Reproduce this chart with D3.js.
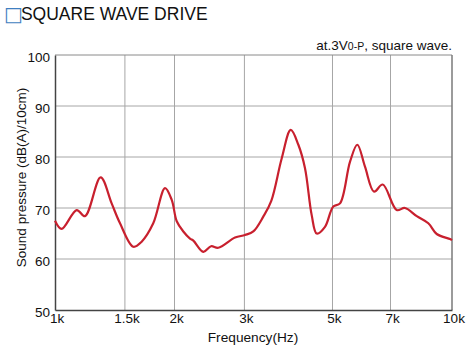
<!DOCTYPE html>
<html>
<head>
<meta charset="utf-8">
<script src="https://cdn.jsdelivr.net/npm/d3@7"></script>
<style>
  body { margin: 0; background: #fff; }
  svg { display: block; font-family: "Liberation Sans", Arial, Helvetica, sans-serif; }
</style>
</head>
<body>
<div id="chart"></div>
<script>
// Sound pressure response, square wave drive
const freq = [1000, 1039, 1134, 1190, 1303, 1389, 1458, 1575, 1653, 1768, 1893, 1968, 2026, 2105,
  2188, 2231, 2364, 2472, 2578, 2841, 3010, 3159, 3347, 3506, 3724, 3925, 4102, 4263, 4432,
  4563, 4787, 5023, 5223, 5536, 5774, 6037, 6364, 6691, 7256, 7613, 8152, 8716, 9152, 9885, 10000];
const spl = [67.5, 65.9, 69.6, 68.4, 76.0, 70.9, 67.0, 62.4, 63.4, 67.0, 73.9, 71.6, 67.4, 65.4,
  64.0, 63.6, 61.4, 62.5, 62.2, 64.2, 64.7, 65.4, 68.3, 71.4, 79.7, 85.3, 82.4, 77.8, 68.6,
  65.0, 66.3, 70.3, 70.9, 79.1, 82.4, 78.1, 73.2, 74.6, 69.6, 70.0, 68.4, 67.0, 64.9, 63.9, 63.7];

const xTicks = [1000, 1500, 2000, 3000, 5000, 7000, 10000];
const xTickLabels = ['1k', '1.5k', '2k', '3k', '5k', '7k', '10k'];
const yTicks = [50, 60, 70, 80, 90, 100];

const width = 472, height = 351;
const margin = { left: 55, right: 20, top: 55, bottom: 41 };

const svg = d3.select('#chart').append('svg')
  .attr('width', width)
  .attr('height', height);

const x = d3.scaleLog()
  .domain([1000, 10000])
  .range([margin.left, width - margin.right]);

const y = d3.scaleLinear()
  .domain([50, 100])
  .range([height - margin.bottom, margin.top]);

// Title
const title = svg.append('text')
  .attr('x', 4)
  .attr('y', 20)
  .attr('font-size', 17.5)
  .attr('fill', '#111');
title.append('tspan')
  .attr('fill', '#3f7fc1')
  .attr('font-family', '"DejaVu Sans", sans-serif')
  .attr('font-size', 20)
  .attr('dy', 1)
  .text('□');
title.append('tspan').attr('dx', -2).attr('dy', -1).text('SQUARE WAVE DRIVE');

// Condition note
const note = svg.append('text')
  .attr('x', x(10000))
  .attr('y', 50)
  .attr('text-anchor', 'end')
  .attr('font-size', 13.5)
  .attr('fill', '#111');
note.append('tspan').text('at.3V');
note.append('tspan').attr('font-size', 10.5).text('0-P');
note.append('tspan').text(', square wave.');

// Grid
svg.append('g')
  .selectAll('line')
  .data(yTicks.slice(1, -1))
  .join('line')
  .attr('x1', x(1000)).attr('x2', x(10000))
  .attr('y1', d => y(d)).attr('y2', d => y(d))
  .attr('stroke', '#a6a6a6').attr('stroke-width', 1);

svg.append('g')
  .selectAll('line')
  .data(xTicks.slice(1, -1))
  .join('line')
  .attr('x1', d => x(d)).attr('x2', d => x(d))
  .attr('y1', y(50)).attr('y2', y(100))
  .attr('stroke', '#a6a6a6').attr('stroke-width', 1);

// Frame: top and right lighter, left and bottom dark
svg.append('line')
  .attr('x1', x(1000)).attr('x2', x(10000))
  .attr('y1', y(100)).attr('y2', y(100))
  .attr('stroke', '#8a8a8a');
svg.append('line')
  .attr('x1', x(10000)).attr('x2', x(10000))
  .attr('y1', y(100)).attr('y2', y(50))
  .attr('stroke', '#7a7a7a').attr('stroke-width', 1.5);

// Axes
const xAxis = d3.axisBottom(x)
  .tickValues(xTicks)
  .tickFormat((d, i) => xTickLabels[i])
  .tickSize(0)
  .tickPadding(3);
const gx = svg.append('g')
  .attr('transform', `translate(0,${y(50)})`)
  .call(xAxis);
gx.select('.domain').attr('stroke', '#444').attr('stroke-width', 1.5);
gx.selectAll('text').attr('font-size', 13.5).attr('fill', '#111')
  .attr('font-family', '"Liberation Sans", Arial, sans-serif')
  .attr('dx', 1.5);

const yAxis = d3.axisLeft(y)
  .tickValues(yTicks)
  .tickSize(0)
  .tickPadding(5);
const gy = svg.append('g')
  .attr('transform', `translate(${x(1000)},0)`)
  .call(yAxis);
gy.select('.domain').attr('stroke', '#444').attr('stroke-width', 1.5);
gy.selectAll('text').attr('font-size', 13.5).attr('fill', '#111')
  .attr('font-family', '"Liberation Sans", Arial, sans-serif')
  .attr('dy', '0.45em');

// Axis titles
svg.append('text')
  .attr('x', 253)
  .attr('y', 342)
  .attr('text-anchor', 'middle')
  .attr('font-size', 13.7)
  .attr('fill', '#111')
  .text('Frequency(Hz)');

svg.append('text')
  .attr('transform', `translate(26,${(y(50) + y(100)) / 2 - 5}) rotate(-90)`)
  .attr('text-anchor', 'middle')
  .attr('font-size', 13.5)
  .attr('fill', '#111')
  .text('Sound pressure (dB(A)/10cm)');

// Response curve
const line = d3.line()
  .x((d, i) => x(freq[i]))
  .y(d => y(d))
  .curve(d3.curveCatmullRom.alpha(0.5));

svg.append('path')
  .datum(spl)
  .attr('d', line)
  .attr('fill', 'none')
  .attr('stroke', '#c8202e')
  .attr('stroke-width', 2.2)
  .attr('stroke-linejoin', 'round');
</script>
</body>
</html>
